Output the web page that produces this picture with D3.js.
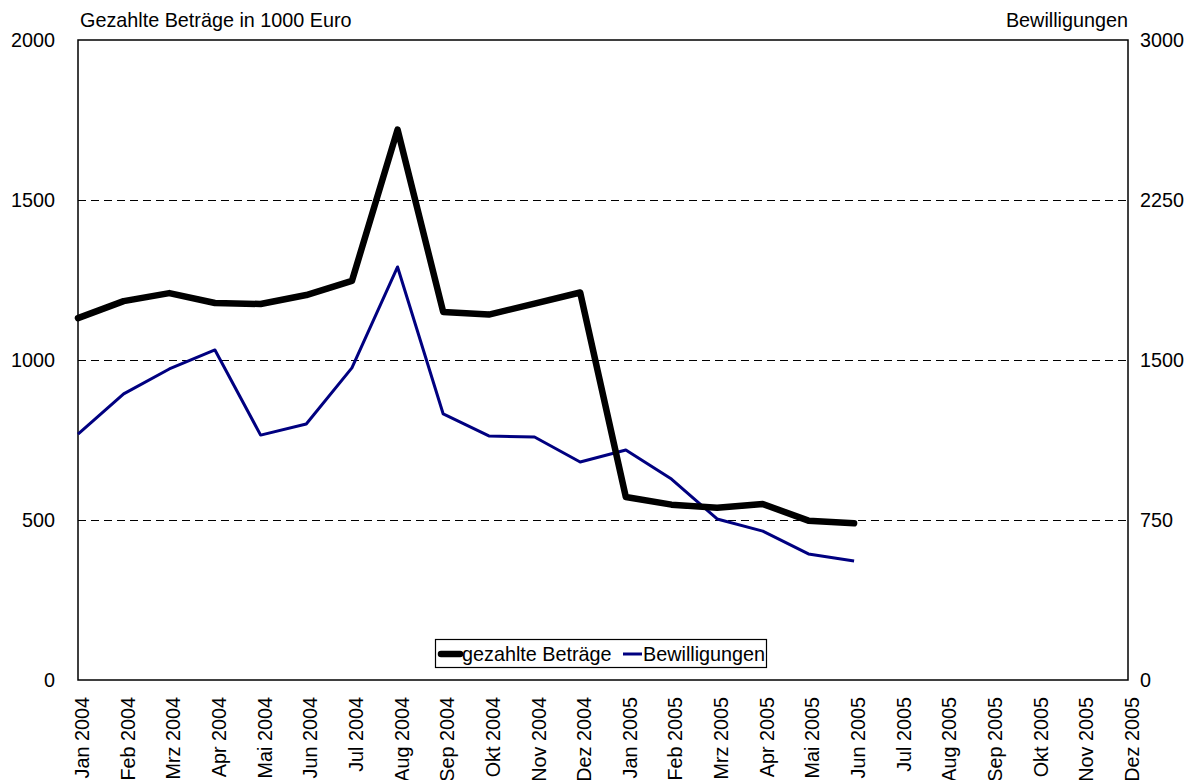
<!DOCTYPE html>
<html>
<head>
<meta charset="utf-8">
<script src="https://cdn.jsdelivr.net/npm/d3@7"></script>
<style>
  body { margin: 0; background: #fff; }
  svg { font-family: "Liberation Sans", Arial, sans-serif; }
</style>
</head>
<body>
<div class="chart"></div>
<script>
// categories and series
const months = [
    "Jan 2004", "Feb 2004", "Mrz 2004", "Apr 2004", "Mai 2004", "Jun 2004",
    "Jul 2004", "Aug 2004", "Sep 2004", "Okt 2004", "Nov 2004", "Dez 2004",
    "Jan 2005", "Feb 2005", "Mrz 2005", "Apr 2005", "Mai 2005", "Jun 2005",
    "Jul 2005", "Aug 2005", "Sep 2005", "Okt 2005", "Nov 2005", "Dez 2005"
];
// left axis, 1000 Euro
const gezahlt = [1131, 1184, 1209, 1178, 1175, 1203, 1247, 1720, 1150, 1142, 1176, 1211,
                 572, 548, 538, 550, 498, 490];
// right axis, number of approvals
const bewilligungen = [1153, 1341, 1458, 1547, 1148, 1200, 1463, 1936, 1247, 1144, 1139, 1022,
                       1078, 942, 755, 698, 591, 558];
const leftTicks = [0, 500, 1000, 1500, 2000];
const rightTicks = [0, 750, 1500, 2250, 3000];

const width = 1200, height = 780;
const plot = {left: 78, right: 1128, top: 40, bottom: 680};
const fontSize = 19.8;

const svg = d3.select(".chart")
    .append("svg")
    .attr("width", width)
    .attr("height", height);

const x = d3.scalePoint().domain(months).range([plot.left, plot.right]);
const yLeft = d3.scaleLinear().domain([0, 2000]).range([plot.bottom, plot.top]);
const yRight = d3.scaleLinear().domain([0, 3000]).range([plot.bottom, plot.top]);

// dashed grid lines (half pixel offset keeps them crisp)
svg.append("g")
    .selectAll("line")
    .data(leftTicks.filter(d => d > 0 && d < 2000)).enter()
    .append("line")
    .attr("x1", plot.left)
    .attr("x2", plot.right)
    .attr("y1", d => yLeft(d) + 0.5)
    .attr("y2", d => yLeft(d) + 0.5)
    .attr("stroke", "#000")
    .attr("stroke-width", 1)
    .attr("stroke-dasharray", "8,5");

// plot frame
svg.append("rect")
    .attr("x", plot.left)
    .attr("y", plot.top)
    .attr("width", plot.right - plot.left)
    .attr("height", plot.bottom - plot.top)
    .attr("fill", "none")
    .attr("stroke", "#000")
    .attr("stroke-width", 1.5);

// left axis labels
const leftAxis = svg.append("g")
    .attr("transform", `translate(${plot.left},0)`)
    .call(d3.axisLeft(yLeft).tickValues(leftTicks).tickSize(0).tickPadding(23).tickFormat(d3.format("d")));
leftAxis.select(".domain").remove();
leftAxis.selectAll("text").style("font-size", fontSize + "px").attr("fill", "#000").style("font-family", "Liberation Sans, Arial, sans-serif");

// right axis labels
const rightAxis = svg.append("g")
    .attr("transform", `translate(${plot.right},0)`)
    .call(d3.axisRight(yRight).tickValues(rightTicks).tickSize(0).tickPadding(12).tickFormat(d3.format("d")));
rightAxis.select(".domain").remove();
rightAxis.selectAll("text").style("font-size", fontSize + "px").attr("fill", "#000").style("font-family", "Liberation Sans, Arial, sans-serif");

// x labels, rotated
svg.append("g")
    .selectAll("text")
    .data(months).enter()
    .append("text")
    .attr("transform", d => `translate(${x(d) + 11},${plot.bottom + 17}) rotate(-90)`)
    .attr("text-anchor", "end")
    .style("font-size", fontSize + "px")
    .text(d => d);

// axis titles
svg.append("text")
    .attr("x", 80)
    .attr("y", 27)
    .style("font-size", fontSize + "px")
    .text("Gezahlte Beträge in 1000 Euro");
svg.append("text")
    .attr("x", plot.right)
    .attr("y", 27)
    .attr("text-anchor", "end")
    .style("font-size", fontSize + "px")
    .text("Bewilligungen");

// series
const lineLeft = d3.line().x((d, i) => x(months[i])).y(d => yLeft(d));
const lineRight = d3.line().x((d, i) => x(months[i])).y(d => yRight(d));

svg.append("path")
    .datum(bewilligungen)
    .attr("d", lineRight)
    .attr("fill", "none")
    .attr("stroke", "#000080")
    .attr("stroke-width", 3)
    .attr("stroke-linejoin", "round");

svg.append("path")
    .datum(gezahlt)
    .attr("d", lineLeft)
    .attr("fill", "none")
    .attr("stroke", "#000")
    .attr("stroke-width", 6.5)
    .attr("stroke-linejoin", "round")
    .attr("stroke-linecap", "round");

// legend
const legend = svg.append("g");
legend.append("rect")
    .attr("x", 435.5)
    .attr("y", 639.5)
    .attr("width", 331)
    .attr("height", 28)
    .attr("fill", "#fff")
    .attr("stroke", "#000")
    .attr("stroke-width", 1.2);
legend.append("line")
    .attr("x1", 441).attr("x2", 460)
    .attr("y1", 654).attr("y2", 654)
    .attr("stroke", "#000")
    .attr("stroke-width", 6.5)
    .attr("stroke-linecap", "round");
legend.append("text")
    .attr("x", 462)
    .attr("y", 661)
    .style("font-size", fontSize + "px")
    .text("gezahlte Beträge");
legend.append("line")
    .attr("x1", 623).attr("x2", 642)
    .attr("y1", 654).attr("y2", 654)
    .attr("stroke", "#000080")
    .attr("stroke-width", 3);
legend.append("text")
    .attr("x", 643)
    .attr("y", 661)
    .style("font-size", fontSize + "px")
    .text("Bewilligungen");
</script>
</body>
</html>
